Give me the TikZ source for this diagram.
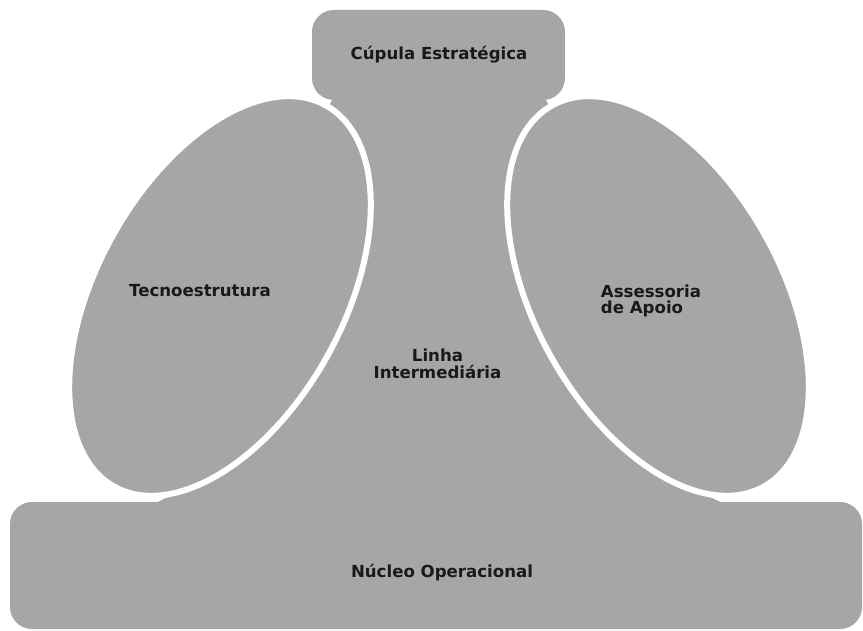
\documentclass[tikz,border=0pt]{standalone}
\usepackage{fontspec}
\setmainfont{DejaVu Sans}
\definecolor{shape}{RGB}{166,166,166}
\definecolor{ink}{RGB}{25,25,25}
\begin{document}
\begin{tikzpicture}[x=1pt,y=-1pt]
\tikzset{
  part/.style={fill=shape, draw=none},
  lobe/.style={fill=shape, draw=white, line width=6pt},
  lbl/.style={text=ink, font=\fontsize{16.6}{16.5}\selectfont\bfseries, inner sep=0pt},
}
\useasboundingbox (0,0) rectangle (863,631);
\fill[white] (0,0) rectangle (863,631);
% central line region
\path[part] (335,60) -- (543,60) -- (543,95) -- (658,296) -- (696,491)
  .. controls (708,495) and (716,501) .. (728,505) -- (150,505)
  .. controls (162,501) and (170,495) .. (182,491) -- (220,296) -- (335,95) -- cycle;
% strategic apex and operating core
\path[part, rounded corners=22pt] (312,10) rectangle (565,100);
\path[part, rounded corners=22pt] (10,502) rectangle (862,629);
% technostructure and support staff
\path[lobe, rotate around={61:(220,296)}] (220,296) ellipse [x radius=218pt, y radius=123pt];
\path[lobe, rotate around={-61:(658,296)}] (658,296) ellipse [x radius=218pt, y radius=123pt];
% labels
\node[lbl, anchor=base] (cupula) at (439,60) {Cúpula Estratégica};
\node[lbl, anchor=base] (tecno) at (200,297) {Tecnoestrutura};
\node[lbl, align=left] (assess) at (651,301) {Assessoria\\de Apoio};
\node[lbl, align=center] (linha) at (437.5,364) {Linha\\Intermediária};
\node[lbl, anchor=base] (nucleo) at (442,577) {Núcleo Operacional};
\end{tikzpicture}
\end{document}
